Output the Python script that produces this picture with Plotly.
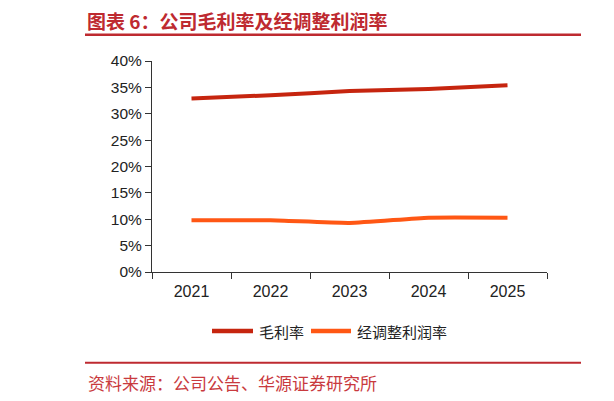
import plotly.graph_objects as go

# data (%)
years = ["2021", "2022", "2023", "2024", "2025"]
gross_margin = [32.9, 33.5, 34.3, 34.7, 35.4]
adj_margin = [9.8, 9.8, 9.3, 10.3, 10.3]
series_names = ["毛利率", "经调整利润率"]
y_ticks = [0, 5, 10, 15, 20, 25, 30, 35, 40]
y_labels = [f"{v}%" for v in y_ticks]

title_text = "图表 6：公司毛利率及经调整利润率"
source_text = "资料来源：公司公告、华源证券研究所"

RED = "#C6250F"
ORANGE = "#FF5714"
TITLE_RED = "#BE2A30"

# the page body has an 8px margin, so work in window pixels and shift back
OFF = 8
W, H = 614 - OFF, 401 - OFF
L, R, T, B = 152, 547, 61, 272  # plot area in window pixels


def px(x):
    return (x - L) / (R - L)


def py(y):
    return (B - y) / (B - T)


fig = go.Figure()
fig.add_trace(go.Scatter(
    x=years, y=gross_margin, name=series_names[0], mode="lines",
    line=dict(color=RED, width=4, shape="spline", smoothing=0.5),
))
fig.add_trace(go.Scatter(
    x=years, y=adj_margin, name=series_names[1], mode="lines",
    line=dict(color=ORANGE, width=4, shape="spline", smoothing=0.5),
))

shapes = [
    # title rule and footer rule
    dict(type="line", xref="paper", yref="paper", x0=px(85), x1=px(581),
         y0=py(34.7), y1=py(34.7), line=dict(color=TITLE_RED, width=2.5)),
    dict(type="line", xref="paper", yref="paper", x0=px(609), x1=px(620),
         y0=py(34.7), y1=py(34.7), line=dict(color=TITLE_RED, width=2.5)),
    dict(type="line", xref="paper", yref="paper", x0=px(85), x1=px(581),
         y0=py(362.7), y1=py(362.7), line=dict(color=TITLE_RED, width=2)),
    # legend swatches
    dict(type="line", xref="paper", yref="paper", x0=px(212), x1=px(253),
         y0=py(331), y1=py(331), line=dict(color=RED, width=4.5)),
    dict(type="line", xref="paper", yref="paper", x0=px(311), x1=px(351),
         y0=py(331), y1=py(331), line=dict(color=ORANGE, width=4.5)),
]

annotations = [
    dict(text="<b>" + title_text + "</b>", xref="paper", yref="paper",
         x=px(85), y=py(20), xanchor="left", yanchor="middle", showarrow=False,
         font=dict(family="Noto Sans CJK SC", size=19, color=TITLE_RED)),
    dict(text="<b>图</b>", xref="paper", yref="paper",
         x=px(609), y=py(20), xanchor="left", yanchor="middle", showarrow=False,
         font=dict(family="Noto Sans CJK SC", size=19, color=TITLE_RED)),
    dict(text=source_text, xref="paper", yref="paper",
         x=px(86), y=py(382), xanchor="left", yanchor="middle", showarrow=False,
         font=dict(family="Noto Sans CJK SC", size=17, color="#C93A3E")),
    dict(text=series_names[0], xref="paper", yref="paper",
         x=px(257), y=py(331), xanchor="left", yanchor="middle", showarrow=False,
         font=dict(family="Noto Sans CJK SC", size=15, color="#222222")),
    dict(text=series_names[1], xref="paper", yref="paper",
         x=px(355), y=py(331), xanchor="left", yanchor="middle", showarrow=False,
         font=dict(family="Noto Sans CJK SC", size=15, color="#222222")),
]

fig.update_layout(
    width=W, height=H,
    margin=dict(l=L - OFF, r=W - (R - OFF), t=T - OFF, b=H - (B - OFF), pad=0),
    paper_bgcolor="white", plot_bgcolor="white",
    showlegend=False,
    shapes=shapes,
    annotations=annotations,
    font=dict(family="Liberation Sans, Arial", size=15, color="#222222"),
    xaxis=dict(
        type="category", range=[-0.5, 4.5], tickson="boundaries",
        showline=True, linecolor="#333333", linewidth=1,
        ticks="outside", ticklen=6, tickcolor="#333333",
        tickfont=dict(size=16), ticklabelstandoff=5,
        showgrid=False, zeroline=False,
    ),
    yaxis=dict(
        range=[0, 40], tickvals=y_ticks, ticktext=y_labels,
        showline=True, linecolor="#333333", linewidth=1,
        ticks="outside", ticklen=6, tickcolor="#333333",
        tickfont=dict(size=15.5),
        showgrid=False, zeroline=False,
    ),
)

fig.write_html("out.html")
